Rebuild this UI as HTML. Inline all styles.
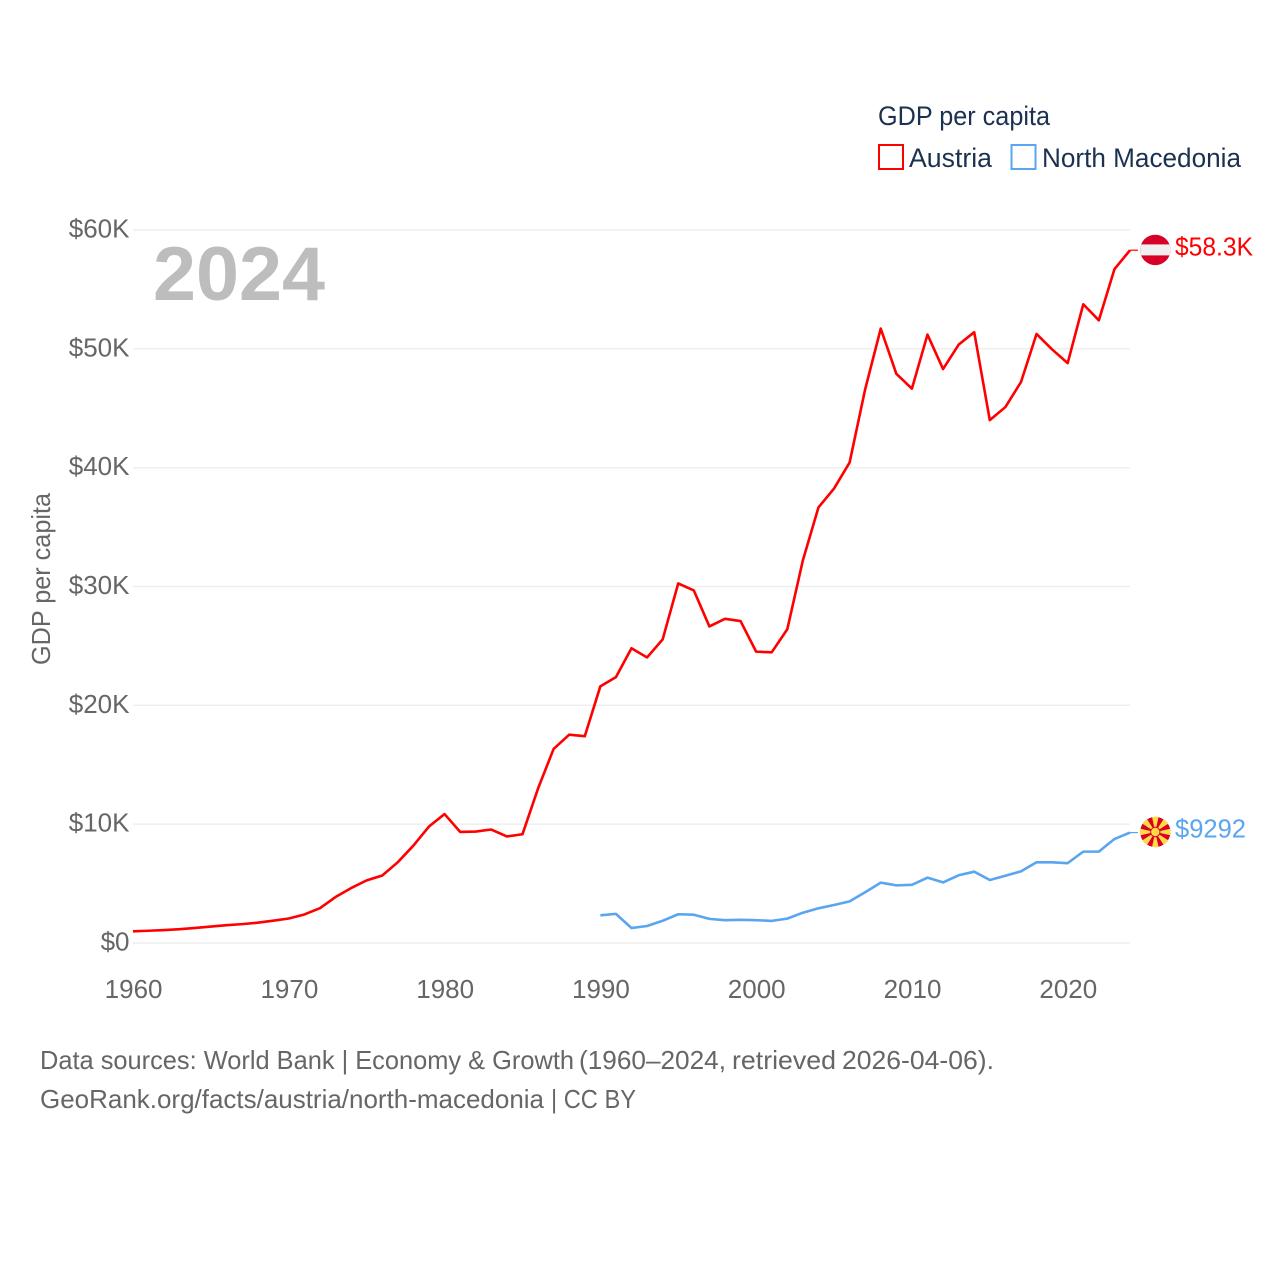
<!DOCTYPE html>
<html lang="en">
<head>
<meta charset="utf-8">
<title>GDP per capita: Austria and North Macedonia</title>
<style>
html,body{margin:0;padding:0;background:#fff;}
svg{display:block;font-family:"Liberation Sans",sans-serif;}
</style>
</head>
<body>
<svg id="chart" width="1280" height="1280" viewBox="0 0 1280 1280" xmlns="http://www.w3.org/2000/svg">
  <rect width="1280" height="1280" fill="#fff"/>
  <g id="grid"></g>
  <g id="yticks"></g>
  <g id="xticks"></g>
  <text transform="translate(50,665) rotate(-90)" font-size="26" fill="#666" textLength="172" lengthAdjust="spacingAndGlyphs">GDP per capita</text>
  <text x="153" y="300" font-size="76" font-weight="bold" fill="#bdbdbd" textLength="172" lengthAdjust="spacingAndGlyphs">2024</text>
  <g id="series"></g>
  <g id="end-markers"></g>

  <g>
    <text x="878" y="125" font-size="27" fill="#1b3150" textLength="172" lengthAdjust="spacingAndGlyphs">GDP per capita</text>
    <g>
      <rect x="879" y="145" width="24" height="24" fill="#fff" stroke="#ff0000" stroke-width="2"/>
      <text x="909" y="167" font-size="27" fill="#1b3150" textLength="83" lengthAdjust="spacingAndGlyphs">Austria</text>
    </g>
    <g>
      <rect x="1011.500" y="145" width="24" height="24" fill="#fff" stroke="#5aa5ef" stroke-width="2"/>
      <text x="1042" y="167" font-size="27" fill="#1b3150" textLength="199" lengthAdjust="spacingAndGlyphs">North Macedonia</text>
    </g>
  </g>

  <g font-size="26" fill="#666">
    <text x="40" y="1069" textLength="534" lengthAdjust="spacingAndGlyphs">Data sources: World Bank | Economy &amp; Growth</text>
    <text x="579" y="1069" textLength="147" lengthAdjust="spacingAndGlyphs">(1960–2024,</text>
    <text x="732" y="1069" textLength="104" lengthAdjust="spacingAndGlyphs">retrieved</text>
    <text x="842" y="1069" textLength="152" lengthAdjust="spacingAndGlyphs">2026-04-06).</text>
  </g>
  <g font-size="26" fill="#666">
    <text x="40" y="1108" textLength="504" lengthAdjust="spacingAndGlyphs">GeoRank.org/facts/austria/north-macedonia</text>
    <text x="551" y="1108" textLength="85" lengthAdjust="spacingAndGlyphs">| CC BY</text>
  </g>
</svg>
<script>
const yTickValues = [0, 10, 20, 30, 40, 50, 60];
const yTickLabels = ["$0", "$10K", "$20K", "$30K", "$40K", "$50K", "$60K"];
const xTickYears = [1960, 1970, 1980, 1990, 2000, 2010, 2020];
const austriaStartYear = 1960;
const austriaValues = [0.98,1.03,1.09,1.16,1.27,1.38,1.50,1.59,1.71,1.88,2.06,2.40,2.93,3.87,4.62,5.27,5.68,6.80,8.20,9.80,10.85,9.35,9.38,9.55,8.97,9.15,13.0,16.33,17.53,17.40,21.60,22.37,24.80,24.03,25.55,30.26,29.67,26.64,27.28,27.09,24.52,24.46,26.40,32.20,36.65,38.24,40.43,46.60,51.70,47.90,46.65,51.20,48.30,50.35,51.40,44.00,45.10,47.20,51.25,49.95,48.80,53.75,52.40,56.70,58.30];
const macedoniaStartYear = 1990;
const macedoniaValues = [2.33,2.45,1.26,1.43,1.87,2.42,2.38,2.03,1.92,1.95,1.92,1.86,2.05,2.55,2.92,3.20,3.50,4.27,5.08,4.85,4.90,5.50,5.10,5.70,6.00,5.30,5.66,6.03,6.79,6.79,6.72,7.69,7.69,8.75,9.29];
const endLabels = ["$58.3K", "$9292"];

const NS = "http://www.w3.org/2000/svg";
const xScale = year => 133 + (year - 1960) * (1130 - 133) / 64;
const yScale = k => 943 - k * (943 - 230) / 60;
const make = (tag, attrs, parent, text) => {
  const el = document.createElementNS(NS, tag);
  for (const key in attrs) el.setAttribute(key, attrs[key]);
  if (text !== undefined) el.textContent = text;
  parent.appendChild(el);
  return el;
};
const grid = document.getElementById("grid");
const yticks = document.getElementById("yticks");
const xticks = document.getElementById("xticks");
const seriesGroup = document.getElementById("series");
const markers = document.getElementById("end-markers");

yTickValues.forEach((v, i) => {
  const line = make("line", {x1: 133, x2: 1130, y1: yScale(v), y2: yScale(v), stroke: "#eeeeee", "stroke-width": 1.4}, grid);
  
  
  const label = make("text", {x: 129.5, y: yScale(v) + 7.5, "text-anchor": "end", "font-size": 26, fill: "#666"}, yticks, yTickLabels[i]);
  
  
});

xTickYears.forEach(year => {
  const label = make("text", {x: xScale(year) + 0.6, y: 998, "text-anchor": "middle", "font-size": 26, fill: "#666"}, xticks, String(year));
  
  
});

function pointsFor(values, startYear) {
  return values.map((v, i) => xScale(startYear + i).toFixed(2) + "," + yScale(v).toFixed(2)).join(" ");
}

const austriaLine = make("polyline", {points: pointsFor(austriaValues, austriaStartYear), fill: "none", stroke: "#ff0000", "stroke-width": 2.6, "stroke-linejoin": "round"}, seriesGroup);


const macedoniaLine = make("polyline", {points: pointsFor(macedoniaValues, macedoniaStartYear), fill: "none", stroke: "#5aa5ef", "stroke-width": 2.6, "stroke-linejoin": "round"}, seriesGroup);



const austriaY = yScale(austriaValues[austriaValues.length - 1]);
const macedoniaY = yScale(macedoniaValues[macedoniaValues.length - 1]);

const austriaLink = make("line", {x1: 1130, x2: 1138, y1: austriaY, y2: austriaY, stroke: "#ff0000", "stroke-width": 1.2}, markers);


const macedoniaLink = make("line", {x1: 1130, x2: 1138, y1: macedoniaY, y2: macedoniaY, stroke: "#5aa5ef", "stroke-width": 1.2}, markers);



const fx = 1155.3, fr = 15.2;
const atFlag = make("g", {}, markers);


make("circle", {cx: fx, cy: austriaY - 0.3, r: fr, fill: "#d80027"}, atFlag);
const atClip = make("clipPath", {id: "at-clip"}, atFlag);
make("circle", {cx: fx, cy: austriaY - 0.3, r: fr}, atClip);
make("rect", {x: fx - fr, y: austriaY - 5.8, width: 2 * fr, height: 11, fill: "#f0f0f0", "clip-path": "url(#at-clip)"}, atFlag);

const mkFlag = make("g", {}, markers);


const mkClip = make("clipPath", {id: "mk-clip"}, mkFlag);
make("circle", {cx: fx, cy: macedoniaY - 0.6, r: fr}, mkClip);
const mkInner = make("g", {"clip-path": "url(#mk-clip)"}, mkFlag);
make("circle", {cx: fx, cy: macedoniaY - 0.6, r: fr, fill: "#d80027"}, mkInner);
for (let a = 0; a < 360; a += 45) {
  make("polygon", {points: "0,0 17,-3.7 17,3.7", fill: "#ffda44", transform: "translate(" + fx + "," + (macedoniaY - 0.6) + ") rotate(" + a + ")"}, mkInner);
}
make("circle", {cx: fx, cy: macedoniaY - 0.6, r: 5.2, fill: "#d80027"}, mkInner);
make("circle", {cx: fx, cy: macedoniaY - 0.6, r: 4.2, fill: "#ffda44"}, mkInner);

const austriaEnd = make("text", {x: 1175, y: austriaY + 7, "font-size": 26, fill: "#ff0000", textLength: 78, lengthAdjust: "spacingAndGlyphs", transform: "translate(0,-1.5)"}, markers, endLabels[0]);


const macedoniaEnd = make("text", {x: 1175, y: macedoniaY + 6, "font-size": 26, fill: "#5aa5ef", textLength: 71, lengthAdjust: "spacingAndGlyphs", transform: "translate(0,-1)"}, markers, endLabels[1]);


</script>
</body>
</html>
